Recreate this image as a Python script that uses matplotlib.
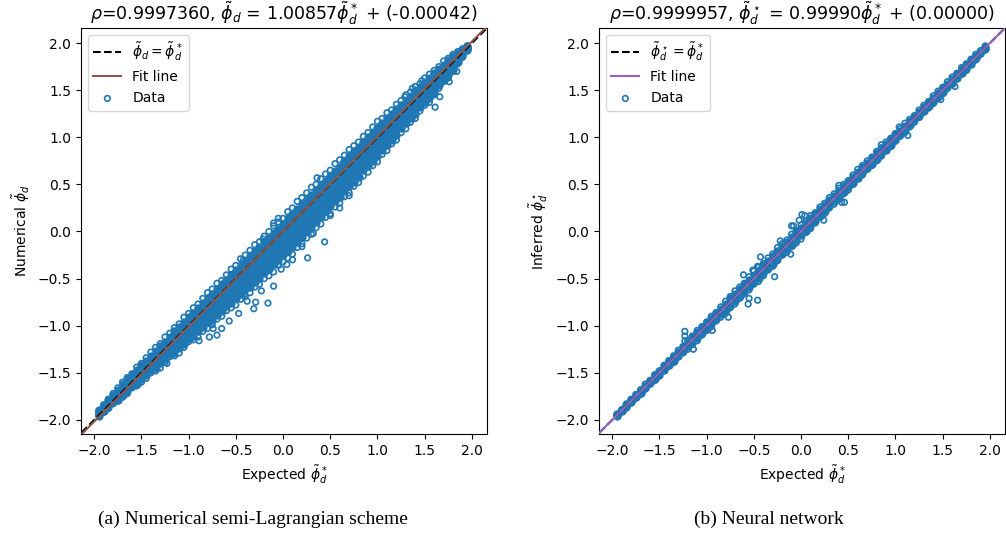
from matplotlib import pyplot as plt
import numpy as np

# expected values where the band of points is sampled
band_x = [-1.95, -1.9, -1.85, -1.8, -1.75, -1.7, -1.65, -1.6, -1.55, -1.5,
          -1.45, -1.4, -1.35, -1.3, -1.25, -1.2, -1.15, -1.1, -1.05, -1.0,
          -0.95, -0.9, -0.85, -0.8, -0.75, -0.7, -0.65, -0.6, -0.55, -0.5,
          -0.45, -0.4, -0.35, -0.3, -0.25, -0.2, -0.15, -0.1, -0.05, 0.0,
          0.05, 0.1, 0.15, 0.2, 0.25, 0.3, 0.35, 0.4, 0.45, 0.5,
          0.55, 0.6, 0.65, 0.7, 0.75, 0.8, 0.85, 0.9, 0.95, 1.0,
          1.05, 1.1, 1.15, 1.2, 1.25, 1.3, 1.35, 1.4, 1.45, 1.5,
          1.55, 1.6, 1.65, 1.7, 1.75, 1.8, 1.85, 1.9, 1.95]

# numerical scheme: error (numerical - expected), top edge to bottom edge of the band
num_err_top = [0.05, 0.06, 0.07, 0.08, 0.09, 0.10, 0.10, 0.09, 0.11, 0.10, 0.11, 0.12, 0.12, 0.11, 0.13, 0.12, 0.13, 0.12, 0.14, 0.13,
               0.14, 0.13, 0.14, 0.15, 0.14, 0.15, 0.13, 0.14, 0.15, 0.14, 0.16, 0.15, 0.15, 0.16, 0.14, 0.15, 0.15, 0.16, 0.15, 0.14,
               0.16, 0.15, 0.17, 0.16, 0.16, 0.17, 0.15, 0.16, 0.16, 0.15, 0.17, 0.16, 0.16, 0.17, 0.16, 0.15, 0.16, 0.15, 0.16, 0.17,
               0.15, 0.16, 0.14, 0.15, 0.14, 0.15, 0.13, 0.14, 0.12, 0.13, 0.12, 0.11, 0.10, 0.11, 0.09, 0.08,
               0.06, 0.04, 0.02]
num_err_core = [
    [0.05, 0.06, 0.06, 0.06, 0.07, 0.08, 0.08, 0.08, 0.08, 0.08, 0.08, 0.08, 0.08, 0.08, 0.08, 0.08, 0.09, 0.09, 0.09, 0.09,
     0.09, 0.09, 0.09, 0.09, 0.09, 0.09, 0.09, 0.09, 0.09, 0.09, 0.09, 0.09, 0.09, 0.09, 0.09, 0.09, 0.08, 0.08, 0.08, 0.08,
     0.09, 0.09, 0.09, 0.09, 0.09, 0.09, 0.09, 0.09, 0.09, 0.09, 0.09, 0.09, 0.10, 0.10, 0.10, 0.10, 0.10, 0.10, 0.10, 0.10,
     0.10, 0.10, 0.10, 0.10, 0.09, 0.09, 0.09, 0.09, 0.08, 0.08, 0.08, 0.08, 0.07, 0.07, 0.07, 0.06,
     0.04, 0.03, 0.02],
    [0.03, 0.04, 0.04, 0.04, 0.05, 0.05, 0.05, 0.05, 0.05, 0.05, 0.05, 0.05, 0.05, 0.05, 0.05, 0.05, 0.04, 0.04, 0.04, 0.04,
     0.04, 0.04, 0.04, 0.04, 0.03, 0.03, 0.03, 0.03, 0.03, 0.03, 0.03, 0.03, 0.02, 0.02, 0.02, 0.02, 0.02, 0.02, 0.02, 0.02,
     0.02, 0.02, 0.02, 0.02, 0.02, 0.02, 0.02, 0.02, 0.03, 0.03, 0.03, 0.03, 0.03, 0.03, 0.03, 0.03, 0.04, 0.04, 0.04, 0.04,
     0.04, 0.04, 0.04, 0.04, 0.04, 0.04, 0.04, 0.04, 0.04, 0.04, 0.04, 0.04, 0.04, 0.04, 0.04, 0.04,
     0.03, 0.02, 0.01],
    [0.02, 0.03, 0.03, 0.03, 0.03, 0.03, 0.03, 0.03, 0.02, 0.02, 0.02, 0.02, 0.01, 0.01, 0.01, 0.01, 0.00, 0.00, 0.00, 0.00,
     -0.01, -0.01, -0.01, -0.01, -0.02, -0.02, -0.02, -0.02, -0.03, -0.03, -0.03, -0.03, -0.04, -0.04, -0.04, -0.04, -0.05, -0.05, -0.05, -0.05,
     -0.05, -0.05, -0.05, -0.05, -0.05, -0.05, -0.05, -0.05, -0.04, -0.04, -0.04, -0.04, -0.03, -0.03, -0.03, -0.03, -0.02, -0.02, -0.02, -0.02,
     -0.01, -0.01, -0.01, -0.01, 0.00, 0.00, 0.00, 0.00, 0.00, 0.00, 0.00, 0.00, 0.01, 0.01, 0.01, 0.01,
     0.01, 0.01, 0.00],
    [0.02, 0.02, 0.02, 0.02, 0.01, 0.01, 0.01, 0.01, -0.01, -0.01, -0.01, -0.01, -0.03, -0.03, -0.03, -0.03, -0.05, -0.05, -0.05, -0.05,
     -0.06, -0.06, -0.06, -0.06, -0.08, -0.08, -0.08, -0.08, -0.09, -0.09, -0.09, -0.09, -0.11, -0.11, -0.11, -0.11, -0.12, -0.12, -0.12, -0.12,
     -0.12, -0.12, -0.12, -0.12, -0.11, -0.11, -0.11, -0.11, -0.10, -0.10, -0.10, -0.10, -0.09, -0.09, -0.09, -0.09, -0.08, -0.08, -0.08, -0.08,
     -0.07, -0.07, -0.07, -0.07, -0.05, -0.05, -0.05, -0.05, -0.05, -0.05, -0.05, -0.05, -0.03, -0.03, -0.03, -0.03,
     -0.01, -0.01, 0.00],
    [0.01, 0.01, 0.01, 0.01, -0.01, -0.01, -0.01, -0.01, -0.04, -0.04, -0.04, -0.04, -0.07, -0.07, -0.07, -0.07, -0.09, -0.09, -0.09, -0.09,
     -0.11, -0.11, -0.11, -0.11, -0.13, -0.13, -0.13, -0.13, -0.15, -0.15, -0.15, -0.15, -0.17, -0.17, -0.17, -0.17, -0.19, -0.19, -0.19, -0.19,
     -0.19, -0.19, -0.19, -0.19, -0.18, -0.18, -0.18, -0.18, -0.17, -0.17, -0.17, -0.17, -0.15, -0.15, -0.15, -0.15, -0.14, -0.14, -0.14, -0.14,
     -0.12, -0.12, -0.12, -0.12, -0.10, -0.10, -0.10, -0.10, -0.09, -0.09, -0.09, -0.09, -0.06, -0.06, -0.06, -0.06,
     -0.03, -0.02, -0.01],
    [-0.01, -0.01, -0.01, -0.01, -0.04, -0.04, -0.04, -0.04, -0.07, -0.07, -0.07, -0.07, -0.10, -0.10, -0.10, -0.10, -0.14, -0.14, -0.14, -0.14,
     -0.16, -0.16, -0.16, -0.16, -0.19, -0.19, -0.19, -0.19, -0.21, -0.21, -0.21, -0.21, -0.24, -0.24, -0.24, -0.24, -0.25, -0.25, -0.25, -0.25,
     -0.26, -0.26, -0.26, -0.26, -0.25, -0.25, -0.25, -0.25, -0.23, -0.23, -0.23, -0.23, -0.22, -0.22, -0.22, -0.22, -0.20, -0.20, -0.20, -0.20,
     -0.18, -0.18, -0.18, -0.18, -0.15, -0.15, -0.15, -0.15, -0.13, -0.13, -0.13, -0.13, -0.09, -0.09, -0.09, -0.09,
     -0.05, -0.04, -0.02],
]
num_err_bottom = [-0.01, -0.02, -0.03, -0.03, -0.05, -0.06, -0.07, -0.06, -0.09, -0.10, -0.11, -0.10, -0.13, -0.15, -0.14, -0.13, -0.17, -0.19, -0.18, -0.17,
                  -0.20, -0.22, -0.21, -0.23, -0.24, -0.23, -0.25, -0.24, -0.26, -0.28, -0.27, -0.29, -0.30, -0.29, -0.31, -0.30, -0.32, -0.33, -0.31, -0.32,
                  -0.33, -0.34, -0.32, -0.33, -0.32, -0.33, -0.31, -0.32, -0.30, -0.31, -0.29, -0.30, -0.28, -0.29, -0.27, -0.28, -0.26, -0.27, -0.25, -0.26,
                  -0.23, -0.24, -0.22, -0.23, -0.20, -0.21, -0.19, -0.20, -0.17, -0.16, -0.18, -0.15, -0.13, -0.11, -0.12, -0.10,
                  -0.07, -0.05, -0.03]

# scattered points off the band (expected, numerical)
num_out_x = [0.44, 0.26, 0.32, 0.50, 0.20, 0.04, -0.10, -0.16, -0.23, -0.31, -0.29, -0.47, -0.57,
             -0.65, -0.70, -0.78, -0.89, -0.74, 0.36, -0.10, -0.05, -0.21, -0.42, 1.47, 1.37,
             1.29, 1.84, 1.76, 1.66, 1.61, -1.23, -0.38, -0.41, 0.60, 0.70, 0.10, -0.02]
num_out_y = [-0.11, -0.28, -0.02, 0.17, -0.16, -0.35, -0.58, -0.76, -0.63, -0.82, -0.75, -0.87, -0.95,
             -1.03, -1.10, -1.12, -1.16, -1.03, 0.57, 0.09, 0.14, -0.08, -0.30, 1.60, 1.52,
             1.43, 1.70, 1.59, 1.43, 1.32, -1.40, -0.74, -0.67, 0.25, 0.38, -0.30, -0.40]

# neural network: error (inferred - expected)
nn_err_top = [0.01, 0.01, 0.02, 0.02, 0.02, 0.02, 0.03, 0.02, 0.03, 0.02, 0.03, 0.03, 0.03, 0.04, 0.03, 0.04, 0.04, 0.05, 0.04, 0.04,
              0.05, 0.04, 0.05, 0.06, 0.06, 0.07, 0.06, 0.05, 0.07, 0.08, 0.07, 0.06, 0.07, 0.06, 0.08, 0.07, 0.06, 0.07, 0.06, 0.07,
              0.06, 0.07, 0.05, 0.06, 0.05, 0.06, 0.05, 0.06, 0.05, 0.04, 0.05, 0.06, 0.05, 0.05, 0.04, 0.05, 0.04, 0.05, 0.04, 0.04,
              0.04, 0.05, 0.04, 0.03, 0.04, 0.04, 0.03, 0.04, 0.04, 0.03, 0.04, 0.04, 0.03, 0.04, 0.03, 0.03,
              0.03, 0.02, 0.02]
nn_err_core = [
    [0.01, 0.01, 0.01, 0.01, 0.01, 0.01, 0.01, 0.01, 0.02, 0.02, 0.02, 0.02, 0.02, 0.02, 0.02, 0.02, 0.03, 0.03, 0.03, 0.03,
     0.03, 0.03, 0.03, 0.03, 0.04, 0.04, 0.04, 0.04, 0.04, 0.04, 0.04, 0.04, 0.04, 0.04, 0.04, 0.04, 0.04, 0.04, 0.04, 0.04,
     0.04, 0.04, 0.04, 0.04, 0.03, 0.03, 0.03, 0.03, 0.03, 0.03, 0.03, 0.03, 0.03, 0.03, 0.03, 0.03, 0.03, 0.03, 0.03, 0.03,
     0.02, 0.02, 0.02, 0.02, 0.02, 0.02, 0.02, 0.02, 0.02, 0.02, 0.02, 0.02, 0.02, 0.02, 0.02, 0.02,
     0.01, 0.01, 0.01],
    [0.00, 0.00, 0.00, 0.00, 0.00, 0.00, 0.00, 0.00, 0.00, 0.00, 0.00, 0.00, 0.00, 0.00, 0.00, 0.00, 0.01, 0.00, -0.01, 0.00,
     0.00, 0.01, 0.00, -0.01, 0.00, 0.00, 0.01, 0.00, -0.01, 0.00, 0.01, 0.00, 0.00, -0.01, 0.00, 0.01, 0.00, 0.00, -0.01, 0.00,
     0.01, 0.00, 0.00, -0.01, 0.00, 0.00, 0.01, 0.00, 0.00, -0.01, 0.00, 0.00, 0.00, 0.00, 0.00, 0.00, 0.00, 0.00, 0.00, 0.00,
     0.00, 0.00, 0.00, 0.00, 0.00, 0.00, 0.00, 0.00, 0.00, 0.00, 0.00, 0.00, 0.00, 0.00, 0.00, 0.00,
     0.00, 0.00, 0.00],
    [-0.01, -0.01, -0.01, -0.01, -0.01, -0.01, -0.01, -0.01, -0.02, -0.02, -0.02, -0.02, -0.02, -0.02, -0.02, -0.02, -0.03, -0.03, -0.03, -0.03,
     -0.03, -0.03, -0.03, -0.03, -0.04, -0.04, -0.04, -0.04, -0.04, -0.04, -0.04, -0.04, -0.04, -0.04, -0.04, -0.04, -0.04, -0.04, -0.04, -0.04,
     -0.04, -0.04, -0.04, -0.04, -0.03, -0.03, -0.03, -0.03, -0.03, -0.03, -0.03, -0.03, -0.03, -0.03, -0.03, -0.03, -0.03, -0.03, -0.03, -0.03,
     -0.02, -0.02, -0.02, -0.02, -0.02, -0.02, -0.02, -0.02, -0.02, -0.02, -0.02, -0.02, -0.02, -0.02, -0.02, -0.02,
     -0.01, -0.01, -0.01],
]
nn_err_bottom = [-0.01, -0.01, -0.02, -0.02, -0.02, -0.03, -0.02, -0.02, -0.03, -0.03, -0.02, -0.03, -0.04, -0.03, -0.04, -0.05, -0.05, -0.06, -0.05, -0.05,
                 -0.06, -0.05, -0.06, -0.07, -0.06, -0.07, -0.06, -0.06, -0.07, -0.06, -0.08, -0.07, -0.06, -0.07, -0.06, -0.05, -0.07, -0.06, -0.07, -0.08,
                 -0.06, -0.07, -0.06, -0.05, -0.06, -0.05, -0.06, -0.06, -0.05, -0.06, -0.05, -0.04, -0.05, -0.04, -0.05, -0.05, -0.05, -0.04, -0.05, -0.04,
                 -0.04, -0.05, -0.04, -0.04, -0.04, -0.03, -0.04, -0.04, -0.04, -0.04, -0.03, -0.04, -0.03, -0.03, -0.04, -0.03,
                 -0.03, -0.02, -0.02]

nn_out_x = [-1.23, -1.23, -1.23, -1.14, -0.94, -0.77, -0.61, -0.43, -0.46, -0.56, -0.55, -0.46, -0.22,
            -0.08, -0.02, 0.04, -0.11, -0.28, 0.43, 0.40, 0.85, -0.10, 0.01, 0.46, 0.24, -0.51,
            1.04, 1.13, 1.48, 1.63]
nn_out_y = [-1.06, -1.11, -1.16, -1.25, -1.05, -0.91, -0.46, -0.27, -0.37, -0.77, -0.71, -0.73, -0.10,
            0.06, 0.12, 0.17, -0.24, -0.48, 0.31, 0.49, 0.92, 0.06, 0.18, 0.31, 0.12, -0.41,
            1.11, 1.02, 1.40, 1.54]

# fits printed in the titles
num_slope, num_icpt = 1.00857, -0.00042
nn_slope, nn_icpt = 0.99990, 0.00000

ticks = [-2.0, -1.5, -1.0, -0.5, 0.0, 0.5, 1.0, 1.5, 2.0]


def draw_panel(ax, top, core, bottom, out_x, out_y, slope, icpt, fit_color,
               title, ylabel, ref_label):
    # lines first so the legend lists them before the data
    lx = np.array([-2.3, 2.3])
    ax.plot(lx, lx, 'k--', linewidth=1.5, label=ref_label, zorder=3)
    ax.plot(lx, slope * lx + icpt, color=fit_color, linewidth=1.5,
            label='Fit line', zorder=4)

    bx = np.array(band_x)
    for row in core:
        ax.scatter(bx, bx + np.array(row), s=36, marker='o', color='C0',
                   linewidths=0, zorder=2)
    ax.scatter(bx, bx + np.array(top), s=16, marker='o', facecolors='none',
               edgecolors='C0', linewidths=1.2, zorder=2)
    ax.scatter(bx, bx + np.array(bottom), s=16, marker='o', facecolors='none',
               edgecolors='C0', linewidths=1.2, zorder=2)
    ax.scatter(out_x, out_y, s=16, marker='o', facecolors='none',
               edgecolors='C0', linewidths=1.2, zorder=2, label='Data')

    ax.set_xlim(-2.14, 2.16)
    ax.set_ylim(-2.15, 2.16)
    ax.set_xticks(ticks)
    ax.set_yticks(ticks)
    ax.tick_params(labelsize=10)
    ax.set_title(title, fontsize=12.5)
    ax.set_xlabel(r'Expected $\tilde{\phi}_d^*$', fontsize=10)
    ax.set_ylabel(ylabel, fontsize=10)
    ax.legend(loc='upper left', fontsize=10, scatterpoints=1)


fig = plt.figure(figsize=(10.06, 5.33), dpi=100)
ax1 = fig.add_axes([0.0805, 0.1857, 0.4036, 0.7617])
ax2 = fig.add_axes([0.5954, 0.1857, 0.4036, 0.7617])

draw_panel(ax1, num_err_top, num_err_core, num_err_bottom, num_out_x, num_out_y,
           num_slope, num_icpt, '#8c564b',
           r'$\rho$=0.9997360, $\tilde{\phi}_d$ = 1.00857$\tilde{\phi}_d^*$ + (-0.00042)',
           r'Numerical $\tilde{\phi}_d$',
           r'$\tilde{\phi}_d = \tilde{\phi}_d^*$')

draw_panel(ax2, nn_err_top, nn_err_core, nn_err_bottom, nn_out_x, nn_out_y,
           nn_slope, nn_icpt, '#9467bd',
           r'$\rho$=0.9999957, $\tilde{\phi}_d^\star$ = 0.99990$\tilde{\phi}_d^*$ + (0.00000)',
           r'Inferred $\tilde{\phi}_d^\star$',
           r'$\tilde{\phi}_d^\star = \tilde{\phi}_d^*$')

fig.text(0.251, 0.026, '(a) Numerical semi-Lagrangian scheme', family='Liberation Serif',
         fontsize=14, ha='center', va='center')
fig.text(0.764, 0.026, '(b) Neural network', family='Liberation Serif',
         fontsize=14, ha='center', va='center')

fig.savefig('out.png', dpi=100)
